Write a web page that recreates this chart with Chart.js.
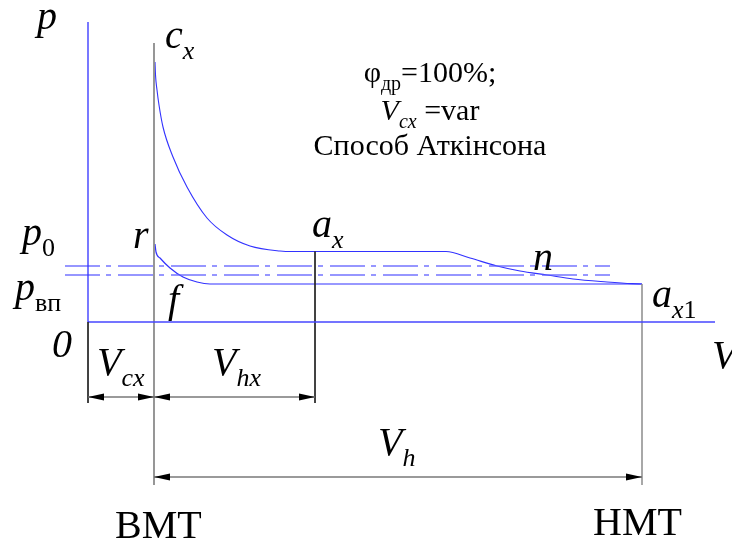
<!DOCTYPE html>
<html>
<head>
<meta charset="utf-8">
<script src="https://cdn.jsdelivr.net/npm/chart.js@4.4.1/dist/chart.umd.min.js"></script>
<style>
  body { margin: 0; background: #fff; }
  canvas { display: block; }
</style>
</head>
<body>
<canvas id="myChart" width="732" height="544"></canvas>
<script>
// volumes (V) and pressures (p), origin at 0 on the axes
const Vc = 66;      // V_cx, clearance volume
const Vax = 227;    // volume at a_x (end of V_hx)
const Vh = 488;     // stroke volume
const Vmax = 627;   // end of the V axis
const pTop = 300;   // top of the p axis

const pAtm = 56;    // p0 dash-dot line
const pIn = 47;     // p_вп dash-dot line
const dashFrom = -23;
const dashTo = 522;

// c_x -> a_x curve
const cxCurveV = [67, 67.5, 69, 71, 75, 85, 99, 119, 139, 162, 192, 205, 227];
const cxCurveP = [260, 247, 232, 217, 195, 165, 135, 104, 87, 76, 71, 70.5, 70.5];

// a_x -> n -> a_x1
const nCurveV = [227, 358, 382, 409, 432, 459, 485, 519, 544, 554];
const nCurveP = [70.5, 70.5, 64, 56, 51, 47, 43, 40, 38.3, 38];

// r -> f -> a_x1
const rCurveV = [67, 68, 72, 82, 95, 109, 122, 554];
const rCurveP = [78, 70, 64, 54, 45, 40, 38, 38];

const dimLow1 = -75;   // level of V_cx / V_hx dimension line
const dimLow2 = -155;  // level of V_h dimension line
const extLow1 = -81;
const extLow2 = -163;

const BLUE = 'rgb(50, 50, 255)';
const LIGHT_BLUE = 'rgba(90, 90, 255, 0.85)';
const GREY = 'rgb(140, 140, 140)';
const DARK = 'rgb(40, 40, 40)';

function pts(xs, ys) {
  let out = [];
  for (let i = 0; i < xs.length; i++) {
    out.push({x: xs[i], y: ys[i]});
  }
  return out;
}

function line(data, color, width, extra) {
  return Object.assign({
    data: data,
    showLine: true,
    borderColor: color,
    borderWidth: width,
    pointRadius: 0,
    fill: false
  }, extra || {});
}

const dashDot = [35, 6, 5, 7];

const datasets = [
  line(pts([0, 0], [pTop, 0]), BLUE, 1.3),
  line(pts([0, 0], [0, extLow1]), DARK, 1),
  line(pts([0, Vmax], [0, 0]), 'rgb(70, 70, 255)', 1.5),
  line(pts([Vc, Vc], [279, extLow2]), GREY, 1.8),
  line(pts([Vax, Vax], [70.5, extLow1]), DARK, 1),
  line(pts([Vc + Vh, Vc + Vh], [38, extLow2]), GREY, 1.5),
  line(pts([dashFrom, dashTo], [pAtm, pAtm]), LIGHT_BLUE, 1.5, {borderDash: dashDot}),
  line(pts([dashFrom, dashTo], [pIn, pIn]), LIGHT_BLUE, 1.5, {borderDash: dashDot}),
  line(pts(cxCurveV, cxCurveP), BLUE, 1.1, {cubicInterpolationMode: 'monotone'}),
  line(pts(nCurveV, nCurveP), BLUE, 1.2, {cubicInterpolationMode: 'monotone'}),
  line(pts(rCurveV, rCurveP), BLUE, 1.2, {cubicInterpolationMode: 'monotone'})
];

// labels: anchor (V, p) is the left end of the baseline
const labels = [
  {v: -51, p: 293, runs: [{t: 'p', i: true}]},
  {v: 77, p: 274, runs: [{t: 'c', i: true}, {t: 'x', i: true, s: true}]},
  {v: -66, p: 77, runs: [{t: 'p', i: true}, {t: '0', s: true}]},
  {v: 45, p: 74, runs: [{t: 'r', i: true}]},
  {v: 224, p: 85, runs: [{t: 'a', i: true}, {t: 'x', i: true, s: true}]},
  {v: 445, p: 52, runs: [{t: 'n', i: true}]},
  {v: -73, p: 22, runs: [{t: 'p', i: true}, {t: 'вп', s: true}]},
  {v: 80, p: 10, runs: [{t: 'f', i: true}]},
  {v: 564, p: 15, runs: [{t: 'a', i: true}, {t: 'x', i: true, s: true}, {t: '1', s: true}]},
  {v: -36, p: -35, runs: [{t: '0', i: true}]},
  {v: 624, p: -46, runs: [{t: 'V', i: true}]},
  {v: 9, p: -53, runs: [{t: 'V', i: true}, {t: 'cx', i: true, s: true}]},
  {v: 124, p: -53, runs: [{t: 'V', i: true}, {t: 'hx', i: true, s: true}]},
  {v: 290, p: -133, runs: [{t: 'V', i: true}, {t: 'h', i: true, s: true}]},
  {v: 27, p: -216, runs: [{t: 'ВМТ'}]},
  {v: 505, p: -213, runs: [{t: 'НМТ'}]},
  {v: 342, p: 240, size: 30, center: true, runs: [{t: 'φ'}, {t: 'др', s: true}, {t: '=100%;'}]},
  {v: 342, p: 202, size: 30, center: true, runs: [{t: 'V', i: true}, {t: 'cx', i: true, s: true}, {t: ' =var'}]},
  {v: 342, p: 167, size: 30, center: true, runs: [{t: 'Способ Аткінсона'}]}
];

// dimension lines: from V to V at level p
const dims = [
  {a: 0, b: Vc, p: dimLow1},
  {a: Vc, b: Vax, p: dimLow1},
  {a: Vc, b: Vc + Vh, p: dimLow2}
];

function arrow(ctx, x, y, dir) {
  ctx.beginPath();
  ctx.moveTo(x, y);
  ctx.lineTo(x - dir * 16, y - 3.5);
  ctx.lineTo(x - dir * 16, y + 3.5);
  ctx.closePath();
  ctx.fill();
}

const drawingPlugin = {
  id: 'drawing',
  afterDatasetsDraw(chart) {
    const ctx = chart.ctx;
    const xs = chart.scales.x;
    const ys = chart.scales.y;
    ctx.save();

    for (let d of dims) {
      let x1 = xs.getPixelForValue(d.a);
      let x2 = xs.getPixelForValue(d.b);
      let y = ys.getPixelForValue(d.p);
      ctx.strokeStyle = 'rgb(120, 120, 120)';
      ctx.lineWidth = 1.6;
      ctx.beginPath();
      ctx.moveTo(x1, y);
      ctx.lineTo(x2, y);
      ctx.stroke();
      ctx.fillStyle = '#000';
      arrow(ctx, x1, y, -1);
      arrow(ctx, x2, y, 1);
    }

    ctx.fillStyle = '#000';
    ctx.textBaseline = 'alphabetic';
    for (let lab of labels) {
      let size = lab.size || 40;
      let subSize = Math.round(size * 0.66);
      let fontOf = (r) => (r.i ? 'italic ' : '') + (r.s ? subSize : size) + 'px "Liberation Serif"';
      let total = 0;
      for (let r of lab.runs) {
        ctx.font = fontOf(r);
        total += ctx.measureText(r.t).width;
      }
      let x = xs.getPixelForValue(lab.v);
      let y = ys.getPixelForValue(lab.p);
      if (lab.center) x -= total / 2;
      for (let r of lab.runs) {
        ctx.font = fontOf(r);
        ctx.fillText(r.t, x, y + (r.s ? size * 0.27 : 0));
        x += ctx.measureText(r.t).width;
      }
    }
    ctx.restore();
  }
};

const config = {
  type: 'scatter',
  data: { datasets: datasets },
  options: {
    responsive: false,
    animation: false,
    layout: { padding: 0 },
    plugins: {
      legend: { display: false },
      tooltip: { enabled: false }
    },
    scales: {
      x: { type: 'linear', min: -88, max: 644, display: false },
      y: { type: 'linear', min: -222, max: 322, display: false }
    }
  },
  plugins: [drawingPlugin]
};

const myChart = new Chart(document.getElementById('myChart'), config);
</script>
</body>
</html>
